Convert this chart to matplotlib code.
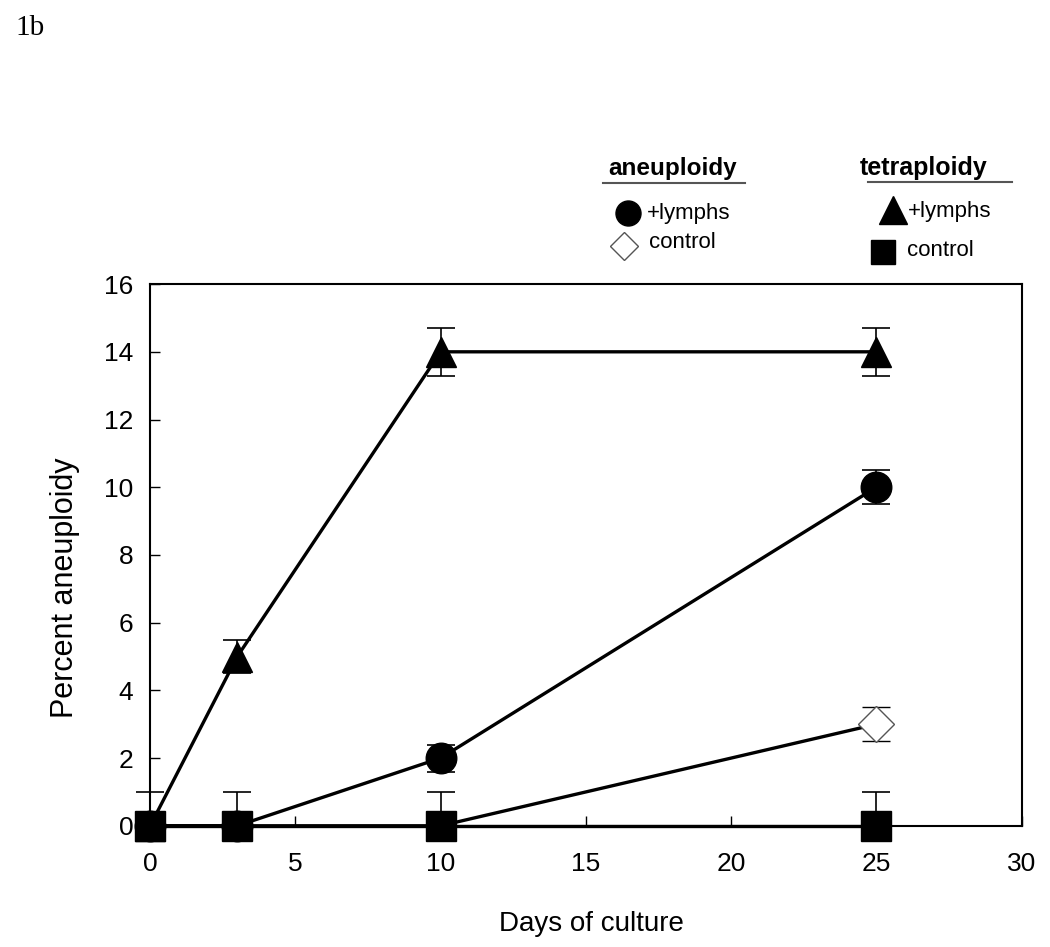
import matplotlib.pyplot as plt
from matplotlib.lines import Line2D

plt.rcParams['font.family'] = ['Liberation Sans', 'DejaVu Sans']

days = [0, 3, 10, 25]

# aneuploidy
aneu_lymphs = [0, 0, 2, 10]
aneu_lymphs_err = [0, 0, 0.4, 0.5]
aneu_control = [0, 0, 0, 3]
aneu_control_err = [0, 0, 0, 0.5]

# tetraploidy
tetra_lymphs = [0, 5, 14, 14]
tetra_lymphs_err = [0, 0.5, 0.7, 0.7]
tetra_control = [0, 0, 0, 0]
tetra_control_err = [[0, 0, 0, 0], [1, 1, 1, 1]]  # only upper bars visible

fig = plt.figure(figsize=(10.5, 9.47), dpi=100)
ax = fig.add_axes([0.143, 0.128, 0.830, 0.572])

kw = dict(color='black', linewidth=2.4, capsize=10, elinewidth=1.2,
          capthick=1.2, clip_on=False)

# the diamonds at zero sit under the squares, so only the last one is drawn
ax.errorbar(days, aneu_control, yerr=aneu_control_err, marker='D',
            markerfacecolor='white', markeredgecolor='#555555',
            markeredgewidth=1.0, markersize=18, markevery=[3], zorder=3, **kw)
ax.errorbar(days, aneu_lymphs, yerr=aneu_lymphs_err, marker='o',
            markersize=22, zorder=4, **kw)
ax.errorbar(days, tetra_lymphs, yerr=tetra_lymphs_err, marker='^',
            markersize=22, zorder=5, **kw)
ax.errorbar(days, tetra_control, yerr=tetra_control_err, marker='s',
            markersize=21, zorder=6, **kw)

ax.set_xlim(0, 30)
ax.set_ylim(0, 16)
ax.set_xticks([0, 5, 10, 15, 20, 25, 30])
ax.set_yticks(range(0, 17, 2))
ax.tick_params(direction='in', labelsize=19, length=7, width=1)
ax.tick_params(axis='x', pad=19)
ax.tick_params(axis='y', pad=12)
for s in ax.spines.values():
    s.set_linewidth(1.5)
ax.set_xlabel('Days of culture', fontsize=20)
ax.set_ylabel('Percent aneuploidy', fontsize=22)
ax.xaxis.set_label_coords(0.506, -0.157)
ax.yaxis.set_label_coords(-0.08, 0.44)

fig.text(0.015, 0.97, '1b', fontsize=21, family=['Liberation Serif'], va='center')


# custom legend
def px(x, y):
    return x / 1050, 1 - y / 947


fig.text(*px(608, 168), 'aneuploidy', fontsize=17.5, fontweight='bold', va='center')
fig.add_artist(Line2D([603 / 1050, 745 / 1050], [1 - 183 / 947] * 2,
                      color='#555555', linewidth=1.5))
fig.text(*px(860, 168), 'tetraploidy', fontsize=18, fontweight='bold', va='center')
fig.add_artist(Line2D([868 / 1050, 1012 / 1050], [1 - 182 / 947] * 2,
                      color='#555555', linewidth=1.5))

fig.add_artist(Line2D([628 / 1050], [1 - 213 / 947], marker='o', color='black',
                      markersize=18, linestyle='none'))
fig.text(*px(647, 213), '+lymphs', fontsize=16, va='center')
fig.add_artist(Line2D([624 / 1050], [1 - 246 / 947], marker='D', markerfacecolor='white',
                      markeredgecolor='#555555', markersize=14, linestyle='none'))
fig.text(*px(649, 243), 'control', fontsize=16, va='center')
fig.add_artist(Line2D([893 / 1050], [1 - 210 / 947], marker='^', color='black',
                      markersize=20, linestyle='none'))
fig.text(*px(908, 212), '+lymphs', fontsize=16, va='center')
fig.add_artist(Line2D([883 / 1050], [1 - 252 / 947], marker='s', color='black',
                      markersize=17, linestyle='none'))
fig.text(*px(907, 251), 'control', fontsize=16, va='center')

fig.savefig('out.png', dpi=100)
